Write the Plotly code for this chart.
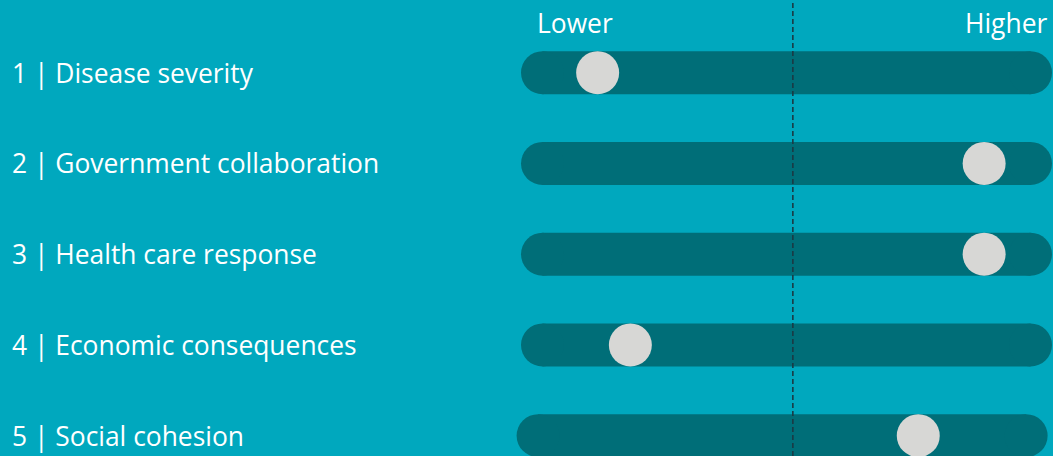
import plotly.graph_objects as go

# ---- data ----
labels = ["1 | Disease severity", "2 | Government collaboration", "3 | Health care response",
          "4 | Economic consequences", "5 | Social cohesion"]
scores = [11.3, 90.5, 90.5, 18.0, 77.0]          # position of the dot on a 0-100 scale
bar_start = [0, 0, 0, 0, -0.9]
bar_end = [100, 100, 100, 100, 99.1]
midline = 51.3
scale_labels = ["Lower", "Higher"]

BG = "#00A8BE"
BAR = "#006E78"
DOT = "#D7D7D5"
LINE = "#1B3A44"
FONT = "Open Sans"
FS = 26.4

rows = list(range(len(labels)))
fig = go.Figure()

# pill-shaped bars: thick line with round end markers
for i in rows:
    fig.add_trace(go.Scatter(
        x=[bar_start[i], bar_end[i]], y=[i, i], mode="lines+markers",
        line=dict(color=BAR, width=43),
        marker=dict(color=BAR, size=43, line=dict(width=0)),
        hoverinfo="skip", showlegend=False))

# dots
fig.add_trace(go.Scatter(
    x=scores, y=rows, mode="markers",
    marker=dict(color=DOT, size=43, line=dict(width=0)),
    hoverinfo="skip", showlegend=False))

# dashed midline
fig.add_shape(type="line", xref="x", yref="paper", x0=midline, x1=midline, y0=0, y1=1,
              line=dict(color=LINE, width=1.6, dash="5px,3px"), layer="above")

# row labels
for i in rows:
    fig.add_annotation(text=labels[i], xref="paper", x=10 / 1053, xanchor="left",
                       yref="y", y=i, yanchor="middle", showarrow=False,
                       font=dict(family=FONT, size=FS, color="white"))

# scale labels
fig.add_annotation(text=scale_labels[0], xref="x", x=bar_start[0], xanchor="left", xshift=-8,
                   yref="paper", y=1, yanchor="top", yshift=-3, showarrow=False,
                   font=dict(family=FONT, size=FS, color="white"))
fig.add_annotation(text=scale_labels[1], xref="x", x=bar_end[0], xanchor="right", xshift=18,
                   yref="paper", y=1, yanchor="top", yshift=-3, showarrow=False,
                   font=dict(family=FONT, size=FS, color="white"))

fig.update_layout(
    width=1053, height=456,
    margin=dict(l=0, r=0, t=0, b=0),
    paper_bgcolor=BG, plot_bgcolor=BG,
    xaxis=dict(range=[-111.17, 104.61], visible=False, fixedrange=True),
    yaxis=dict(range=[4.224, -0.801], visible=False, fixedrange=True),
    showlegend=False,
)

fig.write_html("out.html", config={"displayModeBar": False},
               post_script="document.body.style.margin='0';document.body.style.overflow='hidden';")
